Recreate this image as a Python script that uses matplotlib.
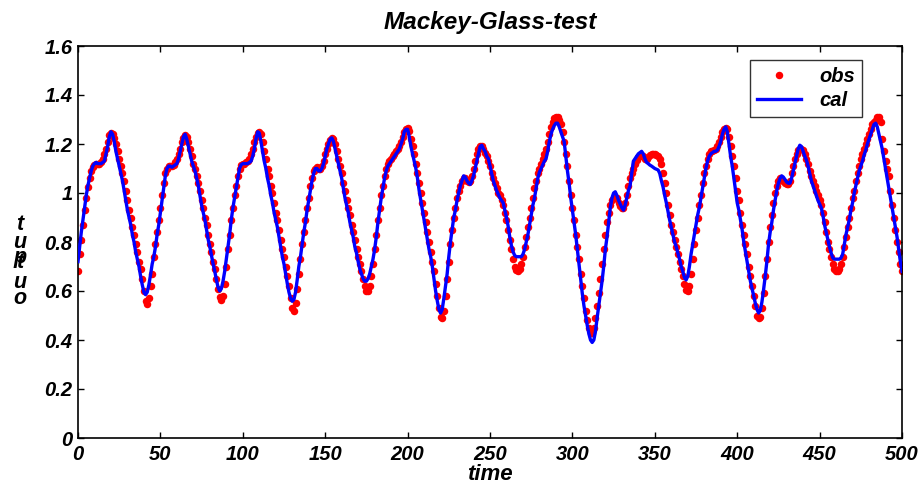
import numpy as np
import matplotlib
matplotlib.use("Agg")
import matplotlib.pyplot as plt
from matplotlib.lines import Line2D

plt.rcParams['font.family'] = ['Liberation Sans', 'DejaVu Sans']

time = list(range(0, 501))

cal = [
    0.72, 0.78, 0.84, 0.89, 0.94, 0.99, 1.03, 1.06, 1.09, 1.11,
    1.12, 1.125, 1.12, 1.12, 1.12, 1.125, 1.13, 1.16, 1.19, 1.23,
    1.25, 1.24, 1.21, 1.17, 1.14, 1.11, 1.08, 1.05, 1.01, 0.97,
    0.93, 0.90, 0.87, 0.83, 0.80, 0.76, 0.73, 0.70, 0.66, 0.625,
    0.595, 0.585, 0.595, 0.625, 0.665, 0.71, 0.74, 0.78, 0.83, 0.87,
    0.92, 0.97, 1.02, 1.07, 1.10, 1.11, 1.11, 1.105, 1.11, 1.115,
    1.12, 1.14, 1.17, 1.20, 1.23, 1.24, 1.22, 1.19, 1.16, 1.13,
    1.11, 1.09, 1.06, 1.03, 0.99, 0.95, 0.92, 0.89, 0.85, 0.81,
    0.78, 0.745, 0.71, 0.68, 0.645, 0.615, 0.60, 0.61, 0.64, 0.68,
    0.73, 0.78, 0.83, 0.89, 0.94, 0.98, 1.02, 1.06, 1.10, 1.115,
    1.12, 1.12, 1.12, 1.12, 1.125, 1.13, 1.15, 1.18, 1.22, 1.25,
    1.245, 1.21, 1.17, 1.13, 1.10, 1.06, 1.03, 0.99, 0.96, 0.92,
    0.89, 0.86, 0.82, 0.78, 0.74, 0.71, 0.67, 0.63, 0.595, 0.57,
    0.558, 0.565, 0.595, 0.645, 0.70, 0.74, 0.79, 0.84, 0.88, 0.93,
    0.97, 1.01, 1.05, 1.08, 1.10, 1.10, 1.09, 1.09, 1.10, 1.12,
    1.15, 1.18, 1.20, 1.22, 1.225, 1.21, 1.18, 1.15, 1.12, 1.09,
    1.06, 1.02, 0.98, 0.95, 0.92, 0.88, 0.85, 0.82, 0.78, 0.755,
    0.72, 0.69, 0.67, 0.65, 0.64, 0.64, 0.65, 0.67, 0.70, 0.73,
    0.77, 0.82, 0.88, 0.93, 0.98, 1.02, 1.06, 1.09, 1.11, 1.12,
    1.13, 1.14, 1.15, 1.16, 1.17, 1.18, 1.20, 1.22, 1.25, 1.26,
    1.26, 1.23, 1.19, 1.16, 1.13, 1.10, 1.06, 1.01, 0.97, 0.93,
    0.89, 0.85, 0.81, 0.77, 0.74, 0.70, 0.65, 0.60, 0.56, 0.525,
    0.51, 0.525, 0.57, 0.62, 0.67, 0.74, 0.80, 0.85, 0.90, 0.93,
    0.97, 1.00, 1.03, 1.05, 1.07, 1.065, 1.05, 1.04, 1.035, 1.05,
    1.07, 1.10, 1.13, 1.16, 1.19, 1.195, 1.18, 1.17, 1.15, 1.14,
    1.11, 1.08, 1.05, 1.03, 1.01, 0.995, 0.98, 0.97, 0.96, 0.93,
    0.90, 0.865, 0.82, 0.785, 0.76, 0.745, 0.74, 0.74, 0.74, 0.74,
    0.75, 0.77, 0.80, 0.83, 0.87, 0.91, 0.95, 0.98, 1.02, 1.06,
    1.085, 1.10, 1.115, 1.13, 1.14, 1.17, 1.21, 1.24, 1.26, 1.275,
    1.285, 1.285, 1.27, 1.25, 1.23, 1.21, 1.15, 1.09, 1.04, 0.98,
    0.93, 0.88, 0.83, 0.77, 0.71, 0.65, 0.59, 0.54, 0.50, 0.46,
    0.425, 0.40, 0.39, 0.40, 0.435, 0.49, 0.54, 0.59, 0.64, 0.70,
    0.77, 0.82, 0.88, 0.94, 0.98, 1.00, 1.005, 0.99, 0.97, 0.955,
    0.94, 0.93, 0.95, 0.98, 1.01, 1.03, 1.08, 1.13, 1.14, 1.15,
    1.16, 1.165, 1.17, 1.16, 1.14, 1.125, 1.12, 1.114, 1.11, 1.105,
    1.10, 1.097, 1.094, 1.08, 1.05, 1.025, 0.99, 0.96, 0.925, 0.89,
    0.86, 0.83, 0.80, 0.78, 0.755, 0.73, 0.70, 0.68, 0.655, 0.645,
    0.66, 0.70, 0.75, 0.79, 0.83, 0.87, 0.91, 0.94, 0.98, 1.02,
    1.06, 1.10, 1.13, 1.15, 1.16, 1.165, 1.17, 1.17, 1.175, 1.19,
    1.21, 1.24, 1.26, 1.27, 1.25, 1.20, 1.15, 1.11, 1.06, 1.01,
    0.96, 0.93, 0.89, 0.85, 0.80, 0.76, 0.72, 0.68, 0.64, 0.61,
    0.58, 0.55, 0.525, 0.51, 0.52, 0.555, 0.605, 0.66, 0.72, 0.79,
    0.84, 0.88, 0.93, 0.97, 1.01, 1.04, 1.06, 1.07, 1.065, 1.055,
    1.045, 1.04, 1.04, 1.06, 1.09, 1.12, 1.15, 1.18, 1.195, 1.19,
    1.17, 1.15, 1.135, 1.11, 1.08, 1.05, 1.03, 1.01, 0.99, 0.97,
    0.955, 0.94, 0.91, 0.87, 0.84, 0.81, 0.78, 0.755, 0.735, 0.73,
    0.73, 0.73, 0.73, 0.735, 0.75, 0.79, 0.83, 0.86, 0.89, 0.93,
    0.96, 1.00, 1.03, 1.06, 1.09, 1.11, 1.13, 1.155, 1.175, 1.20,
    1.22, 1.24, 1.26, 1.28, 1.285, 1.27, 1.24, 1.21, 1.18, 1.14,
    1.10, 1.06, 1.02, 0.98, 0.94, 0.90, 0.86, 0.82, 0.77, 0.72,
    0.68,
]

obs = [
    0.68, 0.75, 0.81, 0.87, 0.93, 0.98, 1.025, 1.06, 1.09, 1.105,
    1.115, 1.12, 1.12, 1.12, 1.125, 1.14, 1.16, 1.18, 1.21, 1.235,
    1.245, 1.24, 1.225, 1.20, 1.17, 1.14, 1.11, 1.08, 1.05, 1.01,
    0.97, 0.93, 0.90, 0.86, 0.83, 0.79, 0.76, 0.72, 0.69, 0.65,
    0.60, 0.56, 0.545, 0.57, 0.62, 0.67, 0.74, 0.79, 0.84, 0.89,
    0.94, 0.99, 1.04, 1.08, 1.10, 1.11, 1.11, 1.11, 1.115, 1.125,
    1.14, 1.16, 1.18, 1.21, 1.225, 1.235, 1.23, 1.21, 1.18, 1.15,
    1.12, 1.10, 1.07, 1.04, 1.01, 0.97, 0.94, 0.90, 0.87, 0.83,
    0.79, 0.76, 0.72, 0.69, 0.65, 0.61, 0.575, 0.565, 0.58, 0.63,
    0.70, 0.77, 0.83, 0.89, 0.94, 0.99, 1.03, 1.07, 1.10, 1.115,
    1.12, 1.12, 1.125, 1.13, 1.14, 1.16, 1.18, 1.21, 1.23, 1.245,
    1.25, 1.24, 1.21, 1.17, 1.14, 1.10, 1.07, 1.03, 1.00, 0.96,
    0.92, 0.89, 0.85, 0.81, 0.77, 0.74, 0.70, 0.66, 0.62, 0.57,
    0.53, 0.52, 0.55, 0.61, 0.67, 0.73, 0.79, 0.84, 0.89, 0.94,
    0.98, 1.03, 1.06, 1.09, 1.10, 1.105, 1.10, 1.10, 1.11, 1.13,
    1.16, 1.18, 1.20, 1.215, 1.225, 1.22, 1.20, 1.17, 1.14, 1.11,
    1.08, 1.04, 1.01, 0.97, 0.94, 0.91, 0.87, 0.84, 0.81, 0.77,
    0.74, 0.71, 0.68, 0.65, 0.62, 0.60, 0.60, 0.62, 0.66, 0.71,
    0.77, 0.83, 0.89, 0.94, 0.99, 1.03, 1.07, 1.10, 1.12, 1.13,
    1.14, 1.15, 1.16, 1.17, 1.18, 1.19, 1.21, 1.23, 1.25, 1.26,
    1.265, 1.255, 1.22, 1.19, 1.16, 1.12, 1.08, 1.04, 1.00, 0.96,
    0.92, 0.88, 0.84, 0.80, 0.76, 0.72, 0.68, 0.63, 0.58, 0.53,
    0.495, 0.49, 0.52, 0.58, 0.65, 0.72, 0.79, 0.85, 0.90, 0.94,
    0.98, 1.01, 1.03, 1.05, 1.06, 1.06, 1.05, 1.045, 1.05, 1.07,
    1.10, 1.13, 1.16, 1.18, 1.19, 1.19, 1.18, 1.165, 1.15, 1.13,
    1.11, 1.08, 1.06, 1.04, 1.02, 1.00, 0.99, 0.97, 0.95, 0.92,
    0.89, 0.85, 0.81, 0.77, 0.73, 0.70, 0.685, 0.68, 0.69, 0.71,
    0.74, 0.78, 0.82, 0.86, 0.90, 0.94, 0.98, 1.02, 1.05, 1.08,
    1.10, 1.12, 1.14, 1.16, 1.18, 1.21, 1.24, 1.27, 1.29, 1.305,
    1.31, 1.31, 1.30, 1.28, 1.25, 1.21, 1.16, 1.11, 1.05, 0.99,
    0.94, 0.89, 0.83, 0.78, 0.73, 0.67, 0.62, 0.57, 0.52, 0.48,
    0.45, 0.43, 0.43, 0.45, 0.49, 0.54, 0.59, 0.65, 0.71, 0.77,
    0.83, 0.88, 0.92, 0.95, 0.97, 0.98, 0.985, 0.98, 0.96, 0.945,
    0.94, 0.94, 0.96, 0.99, 1.03, 1.06, 1.08, 1.10, 1.12, 1.135,
    1.145, 1.15, 1.15, 1.15, 1.14, 1.14, 1.145, 1.155, 1.16, 1.16,
    1.16, 1.155, 1.15, 1.14, 1.12, 1.08, 1.04, 1.00, 0.95, 0.91,
    0.87, 0.84, 0.81, 0.78, 0.75, 0.72, 0.69, 0.66, 0.63, 0.605,
    0.60, 0.62, 0.67, 0.73, 0.79, 0.85, 0.90, 0.95, 0.99, 1.04,
    1.08, 1.11, 1.14, 1.16, 1.17, 1.17, 1.175, 1.18, 1.19, 1.21,
    1.23, 1.25, 1.26, 1.265, 1.26, 1.23, 1.19, 1.15, 1.11, 1.06,
    1.01, 0.97, 0.92, 0.87, 0.83, 0.79, 0.75, 0.70, 0.66, 0.62,
    0.58, 0.54, 0.50, 0.49, 0.495, 0.53, 0.59, 0.66, 0.73, 0.80,
    0.86, 0.91, 0.96, 1.00, 1.03, 1.05, 1.06, 1.055, 1.05, 1.04,
    1.035, 1.035, 1.05, 1.08, 1.11, 1.14, 1.16, 1.175, 1.18, 1.18,
    1.175, 1.16, 1.14, 1.12, 1.09, 1.07, 1.05, 1.03, 1.01, 0.99,
    0.97, 0.95, 0.92, 0.88, 0.84, 0.80, 0.77, 0.74, 0.71, 0.69,
    0.68, 0.68, 0.69, 0.71, 0.74, 0.78, 0.82, 0.86, 0.90, 0.94,
    0.98, 1.01, 1.05, 1.08, 1.11, 1.14, 1.16, 1.18, 1.20, 1.22,
    1.24, 1.26, 1.28, 1.29, 1.30, 1.31, 1.31, 1.29, 1.22, 1.17,
    1.13, 1.10, 1.07, 1.01, 0.95, 0.90, 0.85, 0.80, 0.76, 0.71,
    0.68,
]

xticks = [0, 50, 100, 150, 200, 250, 300, 350, 400, 450, 500]
yticks = [0, 0.2, 0.4, 0.6, 0.8, 1.0, 1.2, 1.4, 1.6]
ytick_labels = ['0', '0.2', '0.4', '0.6', '0.8', '1', '1.2', '1.4', '1.6']

W, H = 919, 487
fig = plt.figure(figsize=(W / 100, H / 100), dpi=100)
L, R, T, B = 78, 902, 46, 438
ax = fig.add_axes([L / W, 1 - B / H, (R - L) / W, (B - T) / H])

fp = dict(fontweight='bold', fontstyle='italic')

ax.plot(time, obs, linestyle='none', marker='o', markersize=5.4,
        markerfacecolor='#ff0000', markeredgecolor='none', color='#ff0000',
        label='obs', zorder=2)
ax.plot(time, cal, color='#0000ff', linewidth=2.4, label='cal', zorder=3)

ax.set_xlim(0, 500)
ax.set_ylim(0, 1.6)
ax.set_xticks(xticks)
ax.set_xticklabels([str(v) for v in xticks], fontsize=14.5, **fp)
ax.set_yticks(yticks)
ax.set_yticklabels(ytick_labels, fontsize=14.5, **fp)
ax.tick_params(axis='x', pad=5)
ax.tick_params(axis='y', pad=4)
ax.tick_params(direction='in', top=True, right=True, length=4, width=1)
for s in ax.spines.values():
    s.set_linewidth(1.2)
    s.set_color('black')

ax.set_title('Mackey-Glass-test', fontsize=17.5, pad=12, **fp)
ax.set_xlabel('time', fontsize=16, labelpad=0, **fp)

# stacked y-label letters as in the reference
letters = [('t', 225), ('u', 243), ('p', 258), ('t', 263), ('u', 282), ('o', 298)]
for ch, yp in letters:
    fig.text(20 / W, 1 - yp / H, ch, ha='center', va='center', fontsize=15.5, **fp)

leg_handles = [
    Line2D([0], [0], linestyle='none', marker='o', markersize=5.4,
           markerfacecolor='#ff0000', markeredgecolor='none'),
    Line2D([0], [0], color='#0000ff', linewidth=2.4),
]
leg = ax.legend(leg_handles, ['obs', 'cal'], loc='upper right',
                bbox_to_anchor=((862 - L) / (R - L), (B - 60) / (B - T)),
                frameon=True, fancybox=False, edgecolor='black',
                prop=dict(size=14.5, weight='bold', style='italic'),
                handlelength=2.2, handletextpad=0.9, borderpad=0.35,
                labelspacing=0.25, borderaxespad=0.0, numpoints=1)
leg.get_frame().set_linewidth(1.0)

fig.savefig('out.png', dpi=100)
